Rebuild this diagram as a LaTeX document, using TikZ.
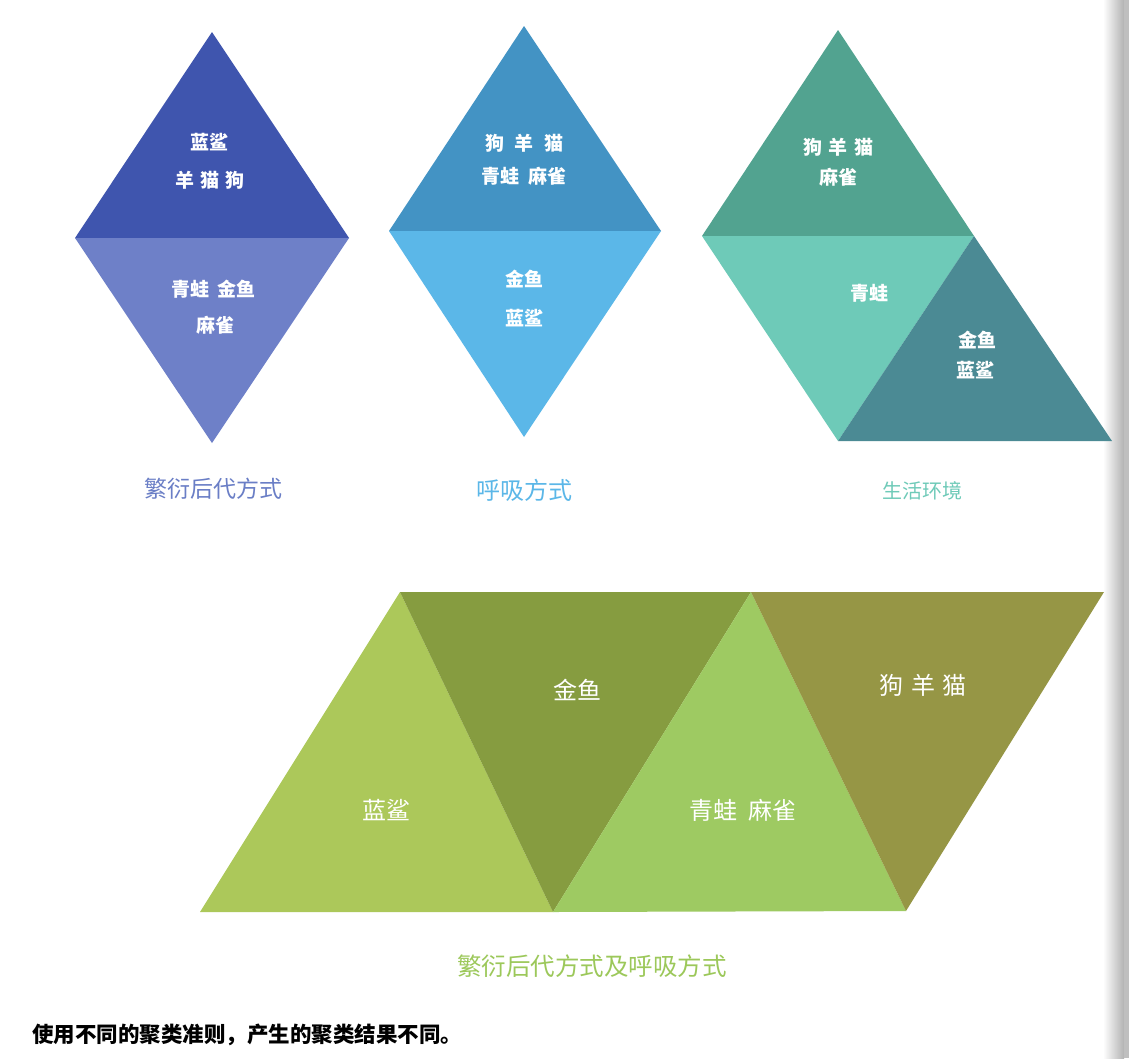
\documentclass[tikz,border=0pt]{standalone}
\usepackage{fontspec}
\setmainfont{Noto Sans CJK SC}
\usetikzlibrary{shadings}
\definecolor{aTop}{HTML}{3F55AE}
\definecolor{aBot}{HTML}{6E80C8}
\definecolor{aTitle}{HTML}{6A7EC6}
\definecolor{bTop}{HTML}{4393C4}
\definecolor{bBot}{HTML}{5BB7E8}
\definecolor{cTop}{HTML}{52A390}
\definecolor{cMid}{HTML}{6ECAB8}
\definecolor{cRight}{HTML}{4B8A94}
\definecolor{gA}{HTML}{ACC85A}
\definecolor{gB}{HTML}{869C40}
\definecolor{gC}{HTML}{9ECA62}
\definecolor{gD}{HTML}{969645}
\definecolor{gTitle}{HTML}{9CC85A}
\newcommand{\gapp}[1]{\hspace{#1pt}}
\tikzset{
  lbl/.style={text=white,font=\fontsize{19}{23}\selectfont\bfseries,align=center,inner sep=0pt},
  biglbl/.style={text=white,font=\fontsize{24}{28}\selectfont,align=center,inner sep=0pt},
  ttl/.style={font=\fontsize{23}{27}\selectfont,inner sep=0pt},
}
\begin{document}
\begin{tikzpicture}[x=1pt,y=-1pt]
\useasboundingbox (0,0) rectangle (1129,1058);
\fill[white] (0,0) rectangle (1129,1058);
% right-edge shadow
\shade[left color=white,right color=black!30] (1103,0) rectangle (1124,1058);
\fill[black!25] (1124,0) rectangle (1129,1058);

% diagram 1
\fill[aTop] (212,32) -- (349,238) -- (75,238) -- cycle;
\fill[aBot] (75,238) -- (349,238) -- (212,443) -- cycle;
\node[lbl] (a1) at (209,142) {蓝鲨};
\node[lbl] (a2) at (210,180) {羊\gapp{6.5}猫\gapp{6.5}狗};
\node[lbl] (a3) at (213,289) {青蛙\gapp{8}金鱼};
\node[lbl] (a4) at (215,325) {麻雀};
\node[ttl,text=aTitle] (at) at (213,489) {繁衍后代方式};

% diagram 2
\fill[bTop] (524,26) -- (661,231) -- (389,231) -- cycle;
\fill[bBot] (389,231) -- (661,231) -- (524,437) -- cycle;
\node[lbl] (b1) at (524,143) {狗\gapp{10.5}羊\gapp{10.5}猫};
\node[lbl] (b2) at (524,176) {青蛙\gapp{9}麻雀};
\node[lbl] (b3) at (524,279) {金鱼};
\node[lbl] (b4) at (524,318) {蓝鲨};
\node[ttl,text=bBot,font=\fontsize{24}{28}\selectfont] (bt) at (524,490) {呼吸方式};

% diagram 3
\fill[cTop] (838,30) -- (974,236) -- (702,236) -- cycle;
\fill[cMid] (702,236) -- (974,236) -- (838,441) -- cycle;
\fill[cRight] (974,236) -- (1112,441) -- (838,441) -- cycle;
\node[lbl] (c1) at (838,147) {狗\gapp{6.5}羊\gapp{6.5}猫};
\node[lbl] (c2) at (838,177) {麻雀};
\node[lbl] (c3) at (869,293) {青蛙};
\node[lbl] (c4) at (977,340) {金鱼};
\node[lbl] (c5) at (975,370) {蓝鲨};
\node[ttl,text=cMid,font=\fontsize{20}{24}\selectfont] (ct) at (922,491) {生活环境};

% bottom parallelogram
\fill[gA] (400,592) -- (553,912) -- (200,912) -- cycle;
\fill[gB] (400,592) -- (751,592) -- (553,912) -- cycle;
\fill[gC] (751,592) -- (906,911) -- (553,912) -- cycle;
\fill[gD] (751,592) -- (1104,592) -- (906,911) -- cycle;
\node[biglbl] (d1) at (577,690) {金鱼};
\node[biglbl] (d2) at (923,685) {狗\gapp{7.5}羊\gapp{7.5}猫};
\node[biglbl] (d3) at (386,810) {蓝鲨};
\node[biglbl] (d4) at (743,810) {青蛙\gapp{11}麻雀};
\node[ttl,text=gTitle,font=\fontsize{24.5}{28}\selectfont] (dt) at (592,966) {繁衍后代方式及呼吸方式};

% caption
\node[anchor=west,inner sep=0pt,font=\fontsize{21.5}{25}\selectfont\bfseries] (cap) at (32,1035) {使用不同的聚类准则，产生的聚类结果不同。};
\end{tikzpicture}
\end{document}
